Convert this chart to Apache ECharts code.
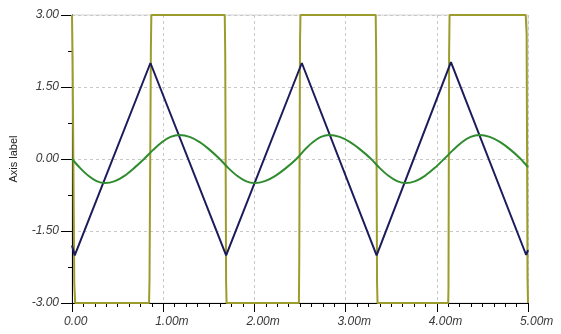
<!DOCTYPE html>
<html>
<head>
<meta charset="utf-8">
<script src="https://cdn.jsdelivr.net/npm/echarts@6/dist/echarts.min.js"></script>
<style>
html,body{margin:0;padding:0;background:#fff;}
#chart{width:561px;height:334px;}
</style>
</head>
<body>
<div id="chart"></div>
<script>
// x values in ms
var xTicks = [0, 1, 2, 3, 4, 5];
var xTickLabels = ['0.00', '1.00m', '2.00m', '3.00m', '4.00m', '5.00m'];
var yTickLabels = ['-3.00', '-1.50', '0.00', '1.50', '3.00'];

var squareWave = [
  [0, 3], [0.007, 2.0], [0.025, -2.6], [0.035, -3],
  [0.845, -3], [0.85, -2.5], [0.865, 2.3], [0.87, 3],
  [1.675, 3], [1.68, 2.2], [1.69, -2.6], [1.695, -3],
  [2.488, -3], [2.492, -2.06], [2.5, 2.4], [2.505, 3],
  [3.33, 3], [3.335, 2.2], [3.345, -2.6], [3.35, -3],
  [4.125, -3], [4.128, -2.7], [4.135, 2.2], [4.14, 3],
  [4.975, 3], [4.985, 2.6], [4.995, -2.5], [5.0, -3]
];

var triangleWave = [
  [0, -1.8], [0.03, -2.01], [0.86, 2.0], [1.69, -2.01],
  [2.52, 2.0], [3.34, -2.01], [4.155, 2.02], [4.98, -2.0], [5.0, -1.9]
];

var sineWave = [
  [0, 0.0], [0.09, -0.19], [0.18, -0.35], [0.27, -0.46], [0.36, -0.5],
  [0.47, -0.46], [0.575, -0.35], [0.68, -0.19], [0.79, 0.0],
  [0.89, 0.19], [0.985, 0.35], [1.08, 0.46], [1.18, 0.5],
  [1.29, 0.46], [1.40, 0.35], [1.51, 0.19], [1.62, 0.0],
  [1.715, -0.19], [1.81, -0.35], [1.905, -0.46], [2.00, -0.5],
  [2.115, -0.46], [2.23, -0.35], [2.345, -0.19], [2.46, 0.0],
  [2.55, 0.19], [2.64, 0.35], [2.73, 0.46], [2.82, 0.5],
  [2.935, 0.46], [3.05, 0.35], [3.165, 0.19], [3.28, 0.0],
  [3.375, -0.19], [3.47, -0.35], [3.565, -0.46], [3.66, -0.5],
  [3.765, -0.46], [3.87, -0.35], [3.975, -0.19], [4.08, 0.0],
  [4.18, 0.19], [4.275, 0.35], [4.37, 0.46], [4.47, 0.5],
  [4.58, 0.46], [4.695, 0.35], [4.81, 0.19], [4.92, 0.0],
  [5.0, -0.17]
];

var chart = echarts.init(document.getElementById('chart'), null, {renderer: 'canvas'});
var labelFont = {fontFamily: 'Liberation Sans, Arial, sans-serif', fontSize: 12, fontStyle: 'italic', color: '#3a3a3a'};

chart.setOption({
  animation: false,
  backgroundColor: '#ffffff',
  grid: {left: 70, right: 33, top: 15, bottom: 31, show: true, borderColor: '#d4d4d4', borderWidth: 1, backgroundColor: 'transparent'},
  xAxis: {
    type: 'value', min: 0, max: 5, interval: 1,
    axisLine: {show: true, onZero: false, lineStyle: {color: '#000', width: 1}},
    axisTick: {show: true, length: 9, lineStyle: {color: '#000'}},
    minorTick: {show: true, splitNumber: 8, length: 4, lineStyle: {color: '#000'}},
    splitLine: {show: true, lineStyle: {color: '#c8c8c8', type: [3, 3]}},
    axisLabel: Object.assign({margin: 13, align: 'left', padding: [0, 0, 0, -8], formatter: function (v) { return xTickLabels[xTicks.indexOf(v)]; }}, labelFont)
  },
  yAxis: {
    type: 'value', min: -3, max: 3, interval: 1.5,
    name: 'Axis label', nameLocation: 'middle', nameGap: 53, nameRotate: 90,
    nameTextStyle: {fontFamily: 'Liberation Sans, Arial, sans-serif', fontSize: 11, color: '#222'},
    axisLine: {show: true, onZero: false, lineStyle: {color: '#000', width: 1}},
    axisTick: {show: true, length: 11, lineStyle: {color: '#000'}},
    minorTick: {show: true, splitNumber: 2, length: 4, lineStyle: {color: '#000'}},
    splitLine: {show: true, lineStyle: {color: '#c8c8c8', type: [3, 3]}},
    axisLabel: Object.assign({margin: 13, formatter: function (v) { return v.toFixed(2); }}, labelFont)
  },
  series: [
    {type: 'line', data: squareWave, showSymbol: false, lineStyle: {color: '#9c9c2c', width: 2}, z: 2},
    {type: 'line', data: triangleWave, showSymbol: false, lineStyle: {color: '#1c1c5c', width: 2}, z: 3},
    {type: 'line', data: sineWave, showSymbol: false, smooth: 0.3, lineStyle: {color: '#2e8b2e', width: 2}, z: 4}
  ]
});
</script>
</body>
</html>
